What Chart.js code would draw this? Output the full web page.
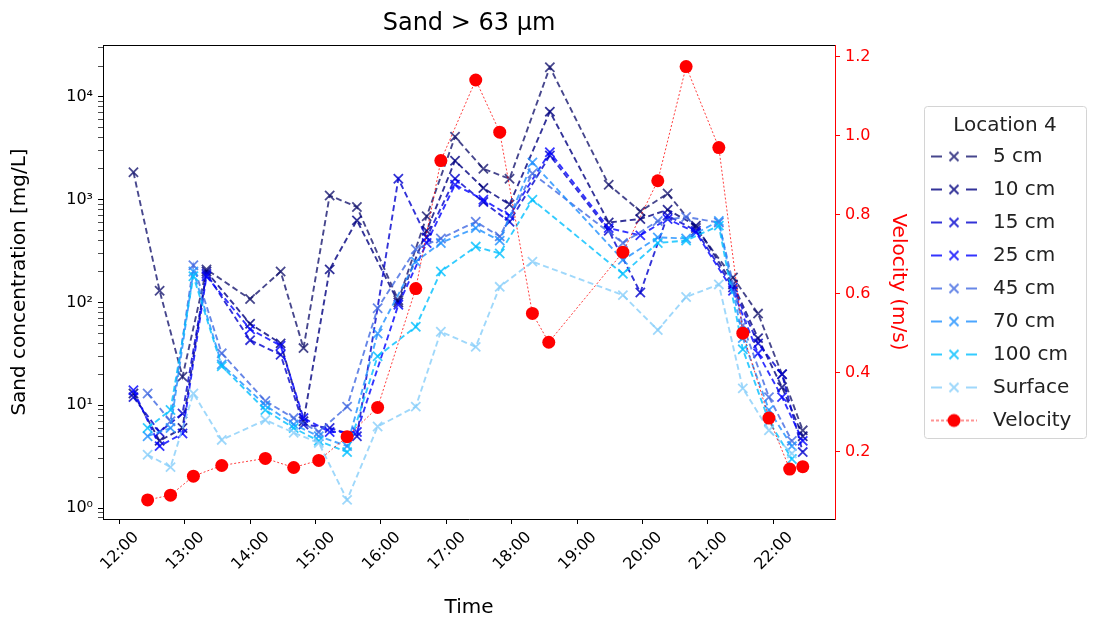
<!DOCTYPE html>
<html lang="en">
<head>
<meta charset="UTF-8">
<title>Sand &gt; 63 µm</title>
<style>
  html, body { margin: 0; padding: 0; background: #fff; }
</style>
</head>
<body>
<canvas id="myChart" width="1094" height="627"></canvas>

<script src="https://cdn.jsdelivr.net/npm/chart.js"></script>
<script>
// sampling times of the 5-25 cm profiles
const timesDeep = ['12:13','12:37','12:58','13:20','14:00','14:28','14:49','15:13','15:38','16:16','16:42',
                   '17:08','17:34','17:58','18:35','19:29','19:58','20:23','20:49','21:23','21:46','22:08','22:27'];
// sampling times of the 45 cm - surface samples (same as the velocity readings)
const timesShallow = ['12:26','12:47','13:08','13:34','14:14','14:40','15:03','15:29','15:57','16:32','16:55',
                      '17:27','17:49','18:19','19:42','20:14','20:40','21:10','21:32','21:56','22:17'];
const timesVel = ['12:26','12:47','13:08','13:34','14:14','14:40','15:03','15:29','15:57','16:32','16:55',
                  '17:27','17:49','18:19','18:34','19:42','20:14','20:40','21:10','21:32','21:56','22:15','22:27'];

// sand concentration [mg/L]
const c5   = [1850, 130, 19, 210, 108, 200, 36, 1100, 850, 105, 690, 4100, 2000, 1600, 19500, 1400, 770, 1150, 530, 175, 78, 20, 5.7];
const c10  = [13, 4.5, 6, 200, 62, 40, 7, 210, 630, 100, 500, 2400, 1300, 900, 7200, 600, 650, 800, 560, 150, 45, 15, 5];
const c15  = [12, 5.5, 8.3, 190, 43, 31, 6.5, 6, 5, 1600, 430, 1600, 950, 610, 2700, 500, 125, 700, 500, 140, 40, 20, 3.5];
const c25  = [14, 4, 5.3, 180, 55, 38, 7.5, 5.5, 5.5, 95, 380, 1400, 1000, 700, 2900, 530, 450, 650, 480, 130, 32, 12, 4.5];
const c45  = [13, 7, 230, 32, 11, 7.5, 5.5, 9.7, 88, 330, 420, 610, 440, 1800, 380, 620, 680, 600, 60, 12, 4.5];
const c70  = [5, 6, 200, 25, 10, 6.5, 5, 4, 50, 250, 380, 530, 400, 2300, 260, 430, 420, 620, 45, 9, 4];
const c100 = [6, 9, 180, 24, 9, 6, 4.5, 3.5, 30, 58, 200, 350, 300, 1000, 190, 380, 400, 560, 35, 7, 3];
const cSurf = [3.3, 2.5, 13, 4.6, 7.2, 5.4, 4.3, 1.2, 6.2, 9.7, 52, 37, 142, 250, 118, 54, 113, 150, 14.6, 5.7, 3.4];

// velocity (m/s)
const velocity = [0.078, 0.090, 0.138, 0.165, 0.183, 0.160, 0.178, 0.238, 0.312, 0.613, 0.937,
                  1.141, 1.009, 0.550, 0.477, 0.705, 0.886, 1.175, 0.970, 0.500, 0.285, 0.156, 0.162];

const hourTicks = [12, 13, 14, 15, 16, 17, 18, 19, 20, 21, 22];
const velTicks = [0.2, 0.4, 0.6, 0.8, 1.0, 1.2];

const FONT = 'DejaVu Sans';
const sup = ['⁰', '¹', '²', '³', '⁴'];

function toH(s) {
    const p = s.split(':');
    return +p[0] + p[1] / 60;
}
function pts(times, vals) {
    return vals.map((v, i) => ({ x: toH(times[i]), y: v }));
}

// legend sample: dashed line with the marker in the middle
function makeIcon(color, isVel) {
    const c = document.createElement('canvas');
    c.width = 46; c.height = 16;
    const g = c.getContext('2d');
    g.strokeStyle = color;
    g.lineWidth = isVel ? 1 : 2;
    g.setLineDash(isVel ? [3, 2] : [11, 24]);
    g.beginPath(); g.moveTo(0, 8); g.lineTo(46, 8); g.stroke();
    g.setLineDash([]);
    if (isVel) {
        g.fillStyle = 'red';
        g.beginPath(); g.arc(23, 8, 6.5, 0, Math.PI * 2); g.fill();
    } else {
        const r = 4.5;
        g.lineWidth = 2;
        g.beginPath();
        g.moveTo(23 - r, 8 - r); g.lineTo(23 + r, 8 + r);
        g.moveTo(23 + r, 8 - r); g.lineTo(23 - r, 8 + r);
        g.stroke();
    }
    return c;
}

const series = [
    { label: '5 cm',    t: timesDeep,    v: c5,    color: 'rgba(25,25,112,0.8)' },
    { label: '10 cm',   t: timesDeep,    v: c10,   color: 'rgba(0,0,128,0.8)' },
    { label: '15 cm',   t: timesDeep,    v: c15,   color: 'rgba(0,0,205,0.8)' },
    { label: '25 cm',   t: timesDeep,    v: c25,   color: 'rgba(0,0,255,0.8)' },
    { label: '45 cm',   t: timesShallow, v: c45,   color: 'rgba(65,105,225,0.8)' },
    { label: '70 cm',   t: timesShallow, v: c70,   color: 'rgba(30,144,255,0.8)' },
    { label: '100 cm',  t: timesShallow, v: c100,  color: 'rgba(0,191,255,0.8)' },
    { label: 'Surface', t: timesShallow, v: cSurf, color: 'rgba(135,206,250,0.8)' }
];

const datasets = series.map((s, i) => ({
    label: s.label,
    data: pts(s.t, s.v),
    yAxisID: 'y',
    borderColor: s.color,
    backgroundColor: s.color,
    borderWidth: 1.9,
    borderDash: [6, 3.5],
    pointStyle: 'crossRot',
    pointRadius: 6.5,
    pointBorderWidth: 1.8,
    pointBorderColor: s.color,
    order: -i,
    icon: makeIcon(s.color, false)
}));
datasets.push({
    label: 'Velocity',
    data: pts(timesVel, velocity),
    yAxisID: 'y2',
    borderColor: 'rgba(255,0,0,0.85)',
    backgroundColor: 'red',
    borderWidth: 0.9,
    borderDash: [2, 2],
    pointStyle: 'circle',
    pointRadius: 6.5,
    pointBorderWidth: 0,
    pointBackgroundColor: 'red',
    order: -20,
    icon: makeIcon('rgba(255,0,0,0.85)', true)
});

// legend frame + top spine, and fixed legend placement
const framePlugin = {
    id: 'frame',
    beforeLayout(chart) {
        const lg = chart.legend;
        if (lg && !lg._fixed) {
            const fit = lg.fit.bind(lg);
            lg.fit = function () { fit(); lg.width = 174; };
            lg._fixed = true;
        }
    },
    afterLayout(chart) {
        const lg = chart.legend;
        lg.left = 912; lg.width = 186; lg.right = 1098;
        lg.top = 106; lg.height = 500; lg.bottom = 606;
    },
    beforeDraw(chart) {
        const g = chart.ctx;
        g.save();
        g.fillStyle = '#fff';
        g.strokeStyle = '#d4d4d4';
        g.lineWidth = 1;
        g.beginPath();
        g.roundRect(924.5, 106.5, 162, 332, 3);
        g.fill(); g.stroke();
        g.restore();
    },
    afterDraw(chart) {
        const a = chart.chartArea, g = chart.ctx;
        g.save();
        g.strokeStyle = '#000';
        g.lineWidth = 1;
        g.beginPath();
        g.moveTo(a.left, a.top + 0.5); g.lineTo(a.right, a.top + 0.5);
        g.stroke();
        g.restore();
    }
};

new Chart(document.getElementById('myChart'), {
    type: 'line',
    data: { datasets: datasets },
    options: {
        responsive: false,
        animation: false,
        devicePixelRatio: 1,
        layout: { padding: 0 },
        plugins: {
            title: {
                display: true,
                text: 'Sand > 63 µm',
                fullSize: false,
                color: '#000',
                font: { family: FONT, size: 24, weight: 'normal' },
                padding: { top: 9.6, bottom: 6.6 }
            },
            legend: {
                position: 'right',
                align: 'start',
                title: {
                    display: true,
                    text: 'Location 4',
                    color: '#222',
                    font: { family: FONT, size: 20 },
                    padding: { top: 9.5, bottom: -6 }
                },
                labels: {
                    usePointStyle: true,
                    pointStyleWidth: 58,
                    padding: 13,
                    color: '#222',
                    font: { family: FONT, size: 20 },
                    generateLabels: chart => chart.data.datasets.map((ds, i) => ({
                        text: ds.label,
                        pointStyle: ds.icon,
                        datasetIndex: i,
                        hidden: false,
                        lineWidth: 0,
                        strokeStyle: 'transparent',
                        fillStyle: 'transparent',
                        fontColor: '#222'
                    }))
                }
            },
            tooltip: { enabled: false }
        },
        scales: {
            x: {
                type: 'linear',
                position: 'bottom',
                min: 11.751,
                max: 22.943,
                afterBuildTicks: s => { s.ticks = hourTicks.map(v => ({ value: v })); },
                afterFit: s => { s.height = 108; },
                ticks: {
                    autoSkip: false,
                    minRotation: 45,
                    maxRotation: 45,
                    labelOffset: 17,
                    padding: 4,
                    color: '#000',
                    font: { family: FONT, size: 16 },
                    callback: v => v + ':00'
                },
                grid: { drawOnChartArea: false, drawTicks: true, tickLength: 5, color: '#000' },
                border: { display: true, color: '#000', width: 1 },
                title: {
                    display: true,
                    text: 'Time',
                    color: '#000',
                    font: { family: FONT, size: 20 },
                    padding: { top: 0, bottom: 7 }
                }
            },
            y: {
                type: 'logarithmic',
                position: 'left',
                min: 0.7816,
                max: 32063,
                afterBuildTicks: s => {
                    const t = [];
                    for (let e = -1; e <= 4; e++) {
                        for (let k = 1; k <= 9; k++) {
                            const v = k * Math.pow(10, e);
                            if (v >= s.min && v <= s.max) t.push({ value: v, major: k === 1 });
                        }
                    }
                    s.ticks = t;
                },
                afterFit: s => { s.width = 103; },
                ticks: {
                    autoSkip: false,
                    padding: 5,
                    color: '#000',
                    font: { family: FONT, size: 16 },
                    callback: v => {
                        const e = Math.round(Math.log10(v));
                        return Math.abs(Math.log10(v) - e) < 1e-9 ? '10' + sup[e] : '';
                    }
                },
                grid: {
                    drawOnChartArea: false,
                    drawTicks: true,
                    tickLength: 5,
                    color: '#000',
                    tickWidth: c => (c.tick && c.tick.major ? 1 : 0.7)
                },
                border: { display: true, color: '#000', width: 1 },
                title: {
                    display: true,
                    text: 'Sand concentration [mg/L]',
                    color: '#000',
                    font: { family: FONT, size: 20 },
                    padding: { top: 8, bottom: 0 }
                }
            },
            y2: {
                type: 'linear',
                position: 'right',
                min: 0.0296,
                max: 1.2296,
                afterBuildTicks: s => { s.ticks = velTicks.map(v => ({ value: v })); },
                afterFit: s => { s.width = 85; },
                ticks: {
                    autoSkip: false,
                    padding: 5,
                    color: 'red',
                    font: { family: FONT, size: 16 },
                    callback: v => v.toFixed(1)
                },
                grid: { drawOnChartArea: false, drawTicks: true, tickLength: 5, color: 'red' },
                border: { display: true, color: 'red', width: 1 },
                title: {
                    display: true,
                    text: 'Velocity (m/s)',
                    color: 'red',
                    font: { family: FONT, size: 20 },
                    padding: { top: 10, bottom: 0 }
                }
            }
        }
    },
    plugins: [framePlugin]
});
</script>
</body>
</html>
